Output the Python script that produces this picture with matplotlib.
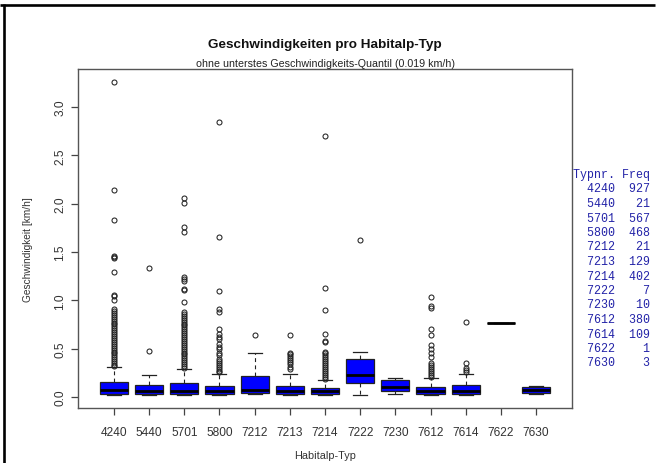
import matplotlib
matplotlib.use("Agg")
import matplotlib.pyplot as plt
from matplotlib.lines import Line2D

plt.rcParams['font.family'] = ['Liberation Sans', 'DejaVu Sans']

# ---- data ----
types = ['4240', '5440', '5701', '5800', '7212', '7213', '7214',
         '7222', '7230', '7612', '7614', '7622', '7630']
freq = [927, 21, 567, 468, 21, 129, 402, 7, 10, 380, 109, 1, 3]

q1 = [0.030, 0.035, 0.030, 0.030, 0.040, 0.035, 0.035, 0.140, 0.062, 0.035, 0.035, 0.77, 0.046]
med = [0.076, 0.060, 0.065, 0.065, 0.076, 0.062, 0.065, 0.225, 0.107, 0.062, 0.062, 0.77, 0.073]
q3 = [0.152, 0.128, 0.142, 0.117, 0.220, 0.114, 0.093, 0.390, 0.173, 0.104, 0.124, 0.77, 0.100]
whislo = [0.020, 0.020, 0.020, 0.020, 0.030, 0.020, 0.020, 0.020, 0.030, 0.020, 0.020, 0.77, 0.035]
whishi = [0.310, 0.230, 0.290, 0.240, 0.450, 0.240, 0.180, 0.470, 0.200, 0.200, 0.240, 0.77, 0.117]

fl_4240 = [3.26, 2.14, 1.83, 1.46, 1.45, 1.44, 1.29, 1.06, 1.04, 1.00, 0.91, 0.89, 0.87,
           0.85, 0.83, 0.81, 0.79, 0.77, 0.75, 0.73, 0.71, 0.69, 0.67, 0.65, 0.63, 0.61,
           0.59, 0.57, 0.55, 0.53, 0.51, 0.49, 0.47, 0.45, 0.43, 0.41, 0.39, 0.37, 0.35,
           0.33, 0.32]
fl_5440 = [1.33, 0.48]
fl_5701 = [2.06, 2.01, 1.76, 1.71, 1.24, 1.22, 1.20, 1.12, 1.11, 0.98, 0.88, 0.86, 0.84,
           0.82, 0.80, 0.78, 0.76, 0.74, 0.72, 0.70, 0.68, 0.66, 0.64, 0.62, 0.60, 0.58,
           0.56, 0.54, 0.52, 0.50, 0.48, 0.46, 0.44, 0.42, 0.40, 0.38, 0.36, 0.34, 0.32,
           0.30]
fl_5800 = [2.84, 1.65, 1.10, 0.91, 0.88, 0.70, 0.65, 0.62, 0.60, 0.55, 0.52, 0.50, 0.46,
           0.43, 0.39, 0.37, 0.35, 0.33, 0.31, 0.29, 0.27, 0.26]
fl_7212 = [0.64]
fl_7213 = [0.64, 0.46, 0.44, 0.42, 0.40, 0.38, 0.36, 0.34, 0.31, 0.29]
fl_7214 = [2.70, 1.13, 0.90, 0.65, 0.58, 0.57, 0.47, 0.45, 0.43, 0.41, 0.39, 0.37, 0.35,
           0.33, 0.31, 0.29, 0.27, 0.25, 0.23, 0.21, 0.19]
fl_7222 = [1.62]
fl_7230 = []
fl_7612 = [1.03, 0.94, 0.92, 0.70, 0.64, 0.54, 0.50, 0.46, 0.415, 0.35, 0.33, 0.31,
           0.29, 0.27, 0.25, 0.23, 0.21]
fl_7614 = [0.775, 0.35, 0.30, 0.28, 0.26]
fl_7622 = []
fl_7630 = []
fliers = [fl_4240, fl_5440, fl_5701, fl_5800, fl_7212, fl_7213, fl_7214,
          fl_7222, fl_7230, fl_7612, fl_7614, fl_7622, fl_7630]

yticks = [0.0, 0.5, 1.0, 1.5, 2.0, 2.5, 3.0]

# ---- figure ----
W, H = 660, 464
fig = plt.figure(figsize=(W / 100, H / 100), dpi=100)
fig.patch.set_facecolor('white')

ax_l, ax_r, ax_t, ax_b = 78, 572, 70, 409
ax = fig.add_axes([ax_l / W, 1 - ax_b / H, (ax_r - ax_l) / W, (ax_b - ax_t) / H])

stats = []
for i in range(len(types)):
    stats.append(dict(q1=q1[i], med=med[i], q3=q3[i], whislo=whislo[i],
                      whishi=whishi[i], fliers=fliers[i], label=types[i]))

positions = list(range(1, len(types) + 1))
ax.bxp(stats, positions=positions, widths=0.8, capwidths=0.4, patch_artist=True,
       showfliers=True,
       boxprops=dict(facecolor='#0000FF', edgecolor='#222222', linewidth=0.9),
       medianprops=dict(color='black', linewidth=2.0, solid_capstyle='butt'),
       whiskerprops=dict(color='#222222', linewidth=0.8, linestyle=(0, (3.5, 3))),
       capprops=dict(color='#222222', linewidth=0.9),
       flierprops=dict(marker='o', markersize=3.6, markerfacecolor='none',
                       markeredgecolor='#222222', markeredgewidth=0.75, linestyle='none'))

ax.set_xlim(-0.02, len(types) + 1.02)
ax.set_ylim(-0.114, 3.393)
ax.set_xticks(positions)
ax.set_xticklabels(types)
ax.set_yticks(yticks)
ax.set_yticklabels([f'{v:.1f}' for v in yticks], rotation=90, va='center')

for s in ax.spines.values():
    s.set_color('#555555')
    s.set_linewidth(1.0)
ax.tick_params(axis='both', direction='out', length=5, width=0.9, color='#444444',
               labelcolor='#333333', labelsize=8.6)
ax.tick_params(axis='x', pad=8)
ax.tick_params(axis='y', pad=3.5)

ax.set_xlabel('Habitalp-Typ', fontsize=7.8, color='#333333')
ax.xaxis.set_label_coords(0.5, (ax_b - 451) / (ax_b - ax_t), transform=ax.transAxes)
ax.set_ylabel('Geschwindigkeit [km/h]', fontsize=7.3, color='#333333')
ax.yaxis.set_label_coords((33 - ax_l) / (ax_r - ax_l), 0.47, transform=ax.transAxes)

cx = (ax_l + ax_r) / 2 / W
fig.text(cx, 1 - 45 / H, 'Geschwindigkeiten pro Habitalp-Typ', ha='center', va='center',
         fontsize=9.7, fontweight='bold', color='#111111')
fig.text(cx, 1 - 64 / H, 'ohne unterstes Geschwindigkeits-Quantil (0.019 km/h)',
         ha='center', va='center', fontsize=7.7, color='#222222')

# frequency table on the right
mono = ['Liberation Mono', 'DejaVu Sans Mono']
tab_color = '#2323A8'
lines = ['Typnr. Freq'] + [f'{t:>6} {f:>4}' for t, f in zip(types, freq)]
y0, dy = 175, 14.5
for i, s in enumerate(lines):
    fig.text(573 / W, 1 - (y0 + i * dy) / H, s, ha='left', va='center',
             family=mono, fontsize=8.4, color=tab_color)

# black frame lines of the screenshot
fig.add_artist(Line2D([0, 655 / W], [1 - 6 / H, 1 - 6 / H], transform=fig.transFigure,
                      color='black', linewidth=1.9, solid_capstyle='butt'))
fig.add_artist(Line2D([4 / W, 4 / W], [1 - 5 / H, 0], transform=fig.transFigure,
                      color='black', linewidth=1.9, solid_capstyle='butt'))

fig.savefig('out.png', dpi=100, facecolor='white')
